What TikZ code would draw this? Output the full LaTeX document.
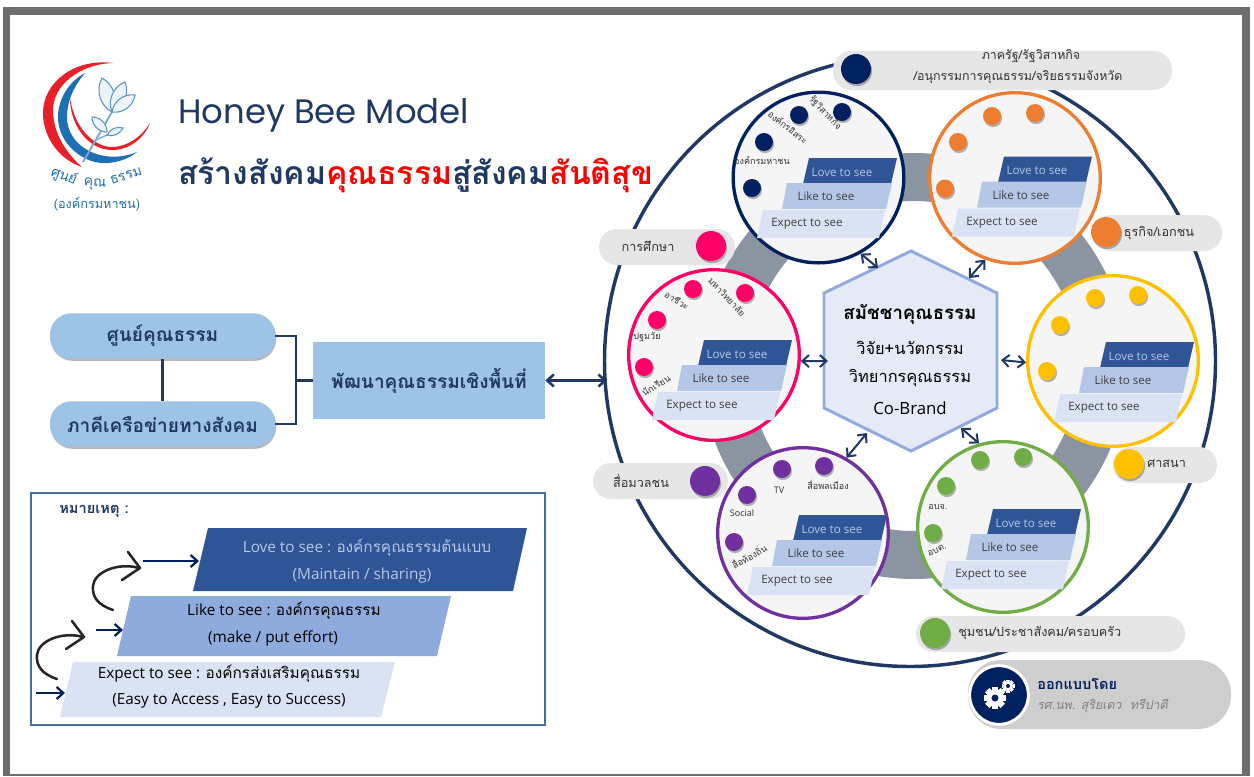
\documentclass[tikz,border=0pt]{standalone}
\usepackage{fontspec}
\setmainfont{Open Sans}
\newfontfamily\thai[Script=Thai]{Loma}
\newfontfamily\thaiit[Script=Thai,FakeSlant=0.2]{Loma}
\newfontfamily\ttl{Poppins}
\usetikzlibrary{shadows,arrows.meta}
\definecolor{navy}{HTML}{1F3864}
\definecolor{dnavy}{HTML}{002060}
\definecolor{cor}{HTML}{ED7D31}
\definecolor{cye}{HTML}{FFC000}
\definecolor{cgr}{HTML}{70AD47}
\definecolor{cpu}{HTML}{7030A0}
\definecolor{cpi}{HTML}{FF0066}
\definecolor{lovec}{HTML}{2F5597}
\definecolor{likec}{HTML}{B4C7E7}
\definecolor{midc}{HTML}{8FAADC}
\definecolor{expc}{HTML}{DAE3F3}
\definecolor{hexc}{HTML}{E4EBF7}
\definecolor{pillc}{HTML}{E7E6E6}
\definecolor{pilld}{HTML}{CECECE}
\definecolor{skyc}{HTML}{9DC3E6}
\definecolor{ringc}{HTML}{8B95A2}
\definecolor{framec}{HTML}{6E6E6E}
\definecolor{legc}{HTML}{41719C}
\definecolor{logob}{HTML}{1F6FB5}
\definecolor{logor}{HTML}{E8202A}
\tikzset{
  softsh/.style={drop shadow={shadow xshift=.8pt,shadow yshift=-1.6pt,opacity=.28,fill=black}},
  card/.style={circle,draw=#1,line width=2.5pt,fill=white!96!black,minimum size=128pt,inner sep=0pt},
  dotn/.style={circle,fill=#1,minimum size=13.5pt,inner sep=0pt,softsh},
  bigdot/.style={circle,fill=#1,minimum size=22.5pt,inner sep=0pt,softsh},
  stairtext/.style={inner sep=0pt,font=\fontsize{8.7}{10}\selectfont,text=#1},
  smalll/.style={inner sep=0pt,text=black!80,font=\thai\fontsize{6.8}{8}\selectfont},
  pilltext/.style={inner sep=0pt,text=black!80,font=\thai\fontsize{9.5}{11}\selectfont},
  hextext/.style={inner sep=0pt,text=black,font=\thai\fontsize{12.3}{14}\selectfont},
  legtext/.style={inner sep=0pt,font=\fontsize{11.5}{13}\selectfont},
  skybox/.style={fill=skyc,text=navy,inner sep=0pt,font=\thai\bfseries\fontsize{14.3}{16}\selectfont},
  dbl/.style={draw=navy,line width=1.5pt,{Straight Barb[length=5pt,width=9pt]}-{Straight Barb[length=5pt,width=9pt]}},
  lnk/.style={draw=navy,line width=1.6pt},
  legarrow/.style={draw=dnavy,line width=1.7pt,-{Straight Barb[length=5pt,width=9pt]}},
  sketch/.style={draw=black!85,line width=1.9pt,line cap=round,line join=round},
  leafs/.style={draw=logob!75,fill=logob!8,line width=.8pt},
  logotxt/.style={inner sep=0pt,text=logob,font=\thai\fontsize{10.5}{12}\selectfont}
}
\newcommand{\stairs}[3]{%
 \begin{scope}[shift={(#2,#3)}]
  \fill[lovec] (-15.5,6.5) -- (-9.5,-19.5) -- (78.5,-19.5) -- (72.5,6.5) -- cycle;
  \fill[likec] (-36.5,31.5) -- (-31.5,5.5) -- (73.5,5.5) -- (67.5,31.5) -- cycle;
  \fill[expc] (-61.5,60.5) -- (-55.5,32.5) -- (66.5,32.5) -- (60.5,60.5) -- cycle;
  \node[stairtext=likec] (#1love) at (23.5,-5.5) {Love to see};
  \node[stairtext=black!75] (#1like) at (7.5,19) {Like to see};
  \node[stairtext=black!75] (#1exp) at (-11.5,46.5) {Expect to see};
 \end{scope}}
\newcommand{\graypill}[3]{\fill[pillc,rounded corners=#3] #1 rectangle #2;}
\newcommand{\gear}[4]{%
 \foreach \a in {0,45,...,315}{\draw[white,line width=#3*0.42pt] ({#1+#3*0.72*cos(\a)},{#2+#3*0.72*sin(\a)}) -- ({#1+#3*cos(\a)},{#2+#3*sin(\a)});}
 \fill[white] (#1,#2) circle ({#3*0.8});
 \fill[dnavy] (#1,#2) circle (#4);}
\begin{document}
\begin{tikzpicture}[x=0.75pt,y=-0.75pt]
\useasboundingbox (0,0) rectangle (1254,776);
\fill[white] (0,0) rectangle (1254,776);
\fill[framec] (3,7) rectangle (1250,776);
\fill[white] (10,15) rectangle (1242,774);
% logo
\fill[logor] (113,63) .. controls (75,58) and (43,82) .. (43,113) .. controls (43,138) and (60,160) .. (82,167) .. controls (65,152) and (53,132) .. (53,110) .. controls (53,85) and (80,64) .. (113,63) -- cycle;
\fill[logob] (85,73) .. controls (68,82) and (58,100) .. (58,117) .. controls (58,145) and (85,164) .. (105,163) .. controls (118,163) and (130,158) .. (137,152) .. controls (125,157) and (112,158) .. (100,155) .. controls (80,150) and (67,135) .. (67,117) .. controls (67,100) and (75,85) .. (85,73) -- cycle;
\fill[logor] (70,98) .. controls (70,125) and (88,150) .. (112,150) .. controls (130,150) and (144,138) .. (150,123) .. controls (142,136) and (128,147) .. (112,147) .. controls (95,147) and (75,130) .. (70,98) -- cycle;
\draw[logob!60,line width=1.4pt] (83,162) -- (112,112);
\draw[logob!60,line width=1pt] (96,140) -- (120,129);
\draw[leafs] (112,112) to[bend left=45] (102,78) to[bend left=45] (112,112);
\draw[leafs] (112,112) to[bend left=45] (125,82) to[bend left=45] (112,112);
\draw[leafs] (112,112) to[bend left=45] (135,95) to[bend left=45] (112,112);
\draw[leafs] (107,132) to[bend left=45] (92,117) to[bend left=45] (107,132);
\draw[leafs] (107,135) to[bend left=40] (123,128) to[bend left=40] (107,135);
\node[logotxt,rotate=-22] (logoa) at (64,176) {ศูนย์};
\node[logotxt,rotate=-3] (logob1) at (95,184) {คุณ};
\node[logotxt,rotate=18] (logoc) at (126,176) {ธรรม};
\node[logotxt,font=\thai\fontsize{9.5}{11}\selectfont] (logod) at (97,204) {(องค์กรมหาชน)};
% title
\node[inner sep=0pt,anchor=west,text=navy,font=\ttl\fontsize{25.4}{30}\selectfont] (title1) at (178,115) {Honey Bee Model};
\node[inner sep=0pt,anchor=west,font=\thai\bfseries\fontsize{24}{30}\selectfont] (title2) at (178,175) {\textcolor{navy}{สร้างสังคม}\textcolor{red}{คุณธรรม}\textcolor{navy}{สู่สังคม}\textcolor{red}{สันติสุข}};
% left boxes
\node[skybox,softsh,rounded corners=16pt,minimum width=168.75pt,minimum height=34pt] (pillA) at (162.5,336) {ศูนย์คุณธรรม};
\node[skybox,softsh,rounded corners=16pt,minimum width=168.75pt,minimum height=34pt] (pillB) at (162.5,424) {ภาคีเครือข่ายทางสังคม};
\node[skybox,minimum width=174pt,minimum height=57.75pt] (areaBox) at (429,380.5) {พัฒนาคุณธรรมเชิงพื้นที่};
\coordinate (brk) at (296,380.5);
\draw[lnk] (pillA) -- (pillB);
\draw[lnk] (pillA.east) -| (brk) |- (pillB.east);
\draw[lnk] (brk) -- (areaBox.west);
% legend
\draw[draw=legc,line width=1.9pt] (31,493) rectangle (545,725);
\node[inner sep=0pt,text=navy,font=\thai\bfseries\fontsize{11}{13}\selectfont] (legTitle) at (94,511) {หมายเหตุ :};
\fill[lovec] (193,591) -- (208,528) -- (527,528) -- (513,591) -- cycle;
\fill[midc] (117,656) -- (131,596) -- (451,596) -- (437,656) -- cycle;
\fill[expc] (60,717) -- (73,662) -- (395,662) -- (381,717) -- cycle;
\node[legtext,text=likec] (legL1) at (367,548) {Love to see : {\thai องค์กรคุณธรรมต้นแบบ}};
\node[legtext,text=likec] (legL2) at (362,576) {(Maintain / sharing)};
\node[legtext,text=black] (legM1) at (284,611) {Like to see : {\thai องค์กรคุณธรรม}};
\node[legtext,text=black] (legM2) at (273,638) {(make / put effort)};
\node[legtext,text=black] (legE1) at (229,674) {Expect to see : {\thai องค์กรส่งเสริมคุณธรรม}};
\node[legtext,text=black] (legE2) at (229,701) {(Easy to Access , Easy to Success)};
\coordinate (la1) at (143,561); \coordinate (la2) at (199,561);
\coordinate (lb1) at (96,630); \coordinate (lb2) at (123,630);
\coordinate (lc1) at (36,693); \coordinate (lc2) at (65,693);
\draw[legarrow] (la1) -- (la2);
\draw[legarrow] (lb1) -- (lb2);
\draw[legarrow] (lc1) -- (lc2);
\draw[sketch] (113,610) .. controls (98,605) and (92,597) .. (93,586) .. controls (94,572) and (118,562) .. (139,568);
\draw[sketch] (128,552) -- (140,568) -- (122,580);
\begin{scope}[shift={(-56,69)}]
\draw[sketch] (113,610) .. controls (98,605) and (92,597) .. (93,586) .. controls (94,572) and (118,562) .. (139,568);
\draw[sketch] (128,552) -- (140,568) -- (122,580);
\end{scope}
% big ring + circle
\draw[ringc,line width=36pt] (914,366) circle (189);
\draw[navy,line width=2.6pt] (910,361) circle (305.5);
% pills
\graypill{(833,51)}{(1172,90)}{14pt}
\graypill{(1093,215)}{(1222,251)}{13.5pt}
\graypill{(1113,447)}{(1217,483)}{13.5pt}
\graypill{(916,616)}{(1185,652)}{13.5pt}
\graypill{(599,229)}{(735,265)}{13.5pt}
\graypill{(593,463)}{(728,499)}{13.5pt}
\node[bigdot=dnavy] (bNavy) at (856,69) {};
\node[bigdot=cor] (bOrange) at (1106,232) {};
\node[bigdot=cye] (bYellow) at (1129,464) {};
\node[bigdot=cgr] (bGreen) at (935,633) {};
\node[bigdot=cpi] (bPink) at (711,246) {};
\node[bigdot=cpu] (bPurple) at (705,481) {};
\node[pilltext,font=\thai\fontsize{9.3}{11}\selectfont] (tNavy1) at (1031,56) {ภาครัฐ/รัฐวิสาหกิจ};
\node[pilltext,font=\thai\fontsize{9.3}{11}\selectfont] (tNavy2) at (1018,77) {/อนุกรรมการคุณธรรม/จริยธรรมจังหวัด};
\node[pilltext] (tOrange) at (1159,233) {ธุรกิจ/เอกชน};
\node[pilltext,anchor=west] (tYellow) at (1147,464) {ศาสนา};
\node[pilltext,anchor=west] (tGreen) at (958,633) {ชุมชน/ประชาสังคม/ครอบครัว};
\node[pilltext] (tPink) at (648,246) {การศึกษา};
\node[pilltext] (tPurple) at (641,481) {สื่อมวลชน};
% designer
\fill[pilld,rounded corners=25pt] (968,660) rectangle (1231,729);
\node[circle,fill=dnavy,draw=white,line width=2.2pt,minimum size=44pt,inner sep=0pt,drop shadow={shadow xshift=-.5pt,shadow yshift=-.5pt,opacity=.35}] (gearC) at (999,695) {};
\gear{995}{698}{11}{3.5}
\gear{1008}{686}{6.5}{2}
\node[inner sep=0pt,anchor=west,text=dnavy,font=\thai\bfseries\fontsize{10.9}{13}\selectfont] (desA) at (1037,684) {ออกแบบโดย};
\node[inner sep=0pt,anchor=west,text=black!50,font=\thaiit\fontsize{9.3}{11}\selectfont] (desB) at (1037,706) {รศ.นพ. สุริยเดว\ \ ทรีปาตี};
% cards
\node[card=dnavy] (cNavy) at (818.5,177.5) {};
\node[card=cor] (cOrange) at (1015,178) {};
\node[card=cye] (cYellow) at (1113,361) {};
\node[card=cgr] (cGreen) at (1003,527) {};
\node[card=cpu] (cPurple) at (803,533) {};
\node[card=cpi] (cPink) at (714,355) {};
\stairs{sN}{818.5}{177.5}
\stairs{sO}{1013.5}{176}
\stairs{sY}{1115.5}{361.5}
\stairs{sG}{1002.5}{528.5}
\stairs{sU}{808.5}{534.5}
\stairs{sP}{713.5}{359.5}
% dots navy
\node[dotn=dnavy] (n1) at (799,115) {};
\node[dotn=dnavy] (n2) at (842,112) {};
\node[dotn=dnavy] (n3) at (764,142) {};
\node[dotn=dnavy] (n4) at (752,188) {};
\node[smalll,rotate=-38] (nl1) at (788,127) {องค์กรอิสระ};
\node[smalll,rotate=-47] (nl2) at (825,113) {รัฐวิสาหกิจ};
\node[smalll] (nl3) at (762,161) {องค์กรมหาชน};
% orange
\node[dotn=cor] (o1) at (992,116) {};
\node[dotn=cor] (o2) at (1035,113) {};
\node[dotn=cor] (o3) at (958,142) {};
\node[dotn=cor] (o4) at (945,188.5) {};
% yellow
\node[dotn=cye] (y1) at (1095,298) {};
\node[dotn=cye] (y2) at (1138,295) {};
\node[dotn=cye] (y3) at (1060,325) {};
\node[dotn=cye] (y4) at (1047,371) {};
% green
\node[dotn=cgr] (g1) at (980,460) {};
\node[dotn=cgr] (g2) at (1023,457) {};
\node[dotn=cgr] (g3) at (946,486) {};
\node[dotn=cgr] (g4) at (933,533) {};
\node[smalll] (gl1) at (938,507) {อบจ.};
\node[smalll,rotate=25] (gl2) at (937,550) {อบต.};
% purple
\node[dotn=cpu] (u1) at (782,469) {};
\node[dotn=cpu] (u2) at (824,466) {};
\node[dotn=cpu] (u3) at (747,495) {};
\node[dotn=cpu] (u4) at (734,542) {};
\node[smalll,font=\fontsize{6.8}{8}\selectfont] (ul1) at (779,490) {TV};
\node[smalll] (ul2) at (828,485) {สื่อพลเมือง};
\node[smalll,font=\fontsize{6.8}{8}\selectfont] (ul3) at (742,513) {Social};
\node[smalll,rotate=30] (ul4) at (749,556) {สื่อท้องถิ่น};
% pink
\node[dotn=cpi] (p1) at (693,289) {};
\node[dotn=cpi] (p2) at (745,293) {};
\node[dotn=cpi] (p3) at (657,320) {};
\node[dotn=cpi] (p4) at (644,367) {};
\node[smalll,rotate=-32] (pl1) at (677,300) {อาชีวะ};
\node[smalll,rotate=-47] (pl2) at (727,297) {มหาวิทยาลัย};
\node[smalll] (pl3) at (647,337) {ปฐมวัย};
\node[smalll,rotate=30] (pl4) at (656,385) {นักเรียน};
% hexagon
\path[draw=midc,fill=hexc,line width=2.2pt,line join=miter] (911,251) -- (997,293) -- (997,408) -- (911,451) -- (824,408) -- (824,293) -- cycle;
\node[hextext,font=\thai\bfseries\fontsize{14}{17}\selectfont] (h1) at (910,314) {สมัชชาคุณธรรม};
\node[hextext] (h2) at (910,348) {วิจัย+นวัตกรรม};
\node[hextext] (h3) at (910,378) {วิทยากรคุณธรรม};
\node[hextext,font=\fontsize{12.6}{14}\selectfont] (h4) at (910,408) {Co-Brand};
% connectors
\coordinate (hN) at (878,268);
\coordinate (hO) at (969,278);
\coordinate (hP) at (828,361);
\coordinate (hY) at (1001,360);
\coordinate (hU) at (867,433);
\coordinate (hG) at (961,428);
\coordinate (ringL) at (607,380.5);
\draw[dbl] (hN) -- (cNavy.-61);
\draw[dbl] (hO) -- (cOrange.-110);
\draw[dbl] (hP) -- (cPink.-4);
\draw[dbl] (hY) -- (cYellow.181);
\draw[dbl] (hU) -- (cPurple.60);
\draw[dbl] (hG) -- (cGreen.106);
\draw[dbl,line width=1.9pt] (areaBox.east) -- (ringL);
\end{tikzpicture}
\end{document}
